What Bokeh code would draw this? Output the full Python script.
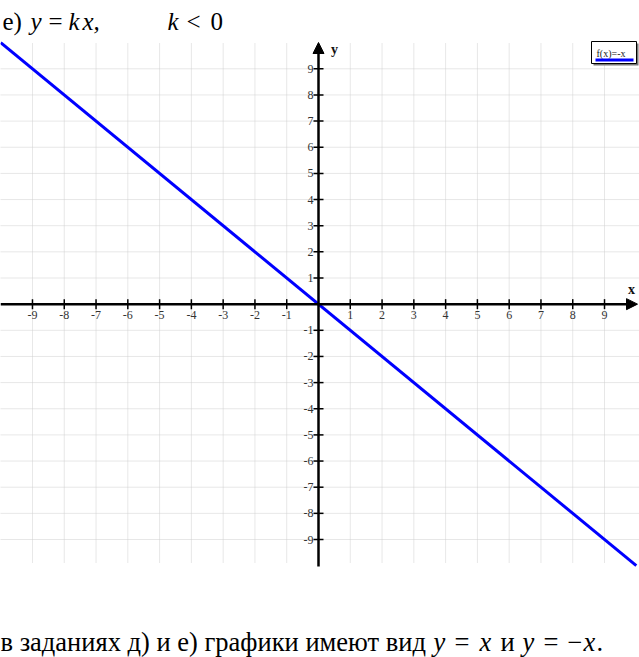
from bokeh.plotting import figure
from bokeh.models import Range1d, Arrow, NormalHead
from bokeh.core.properties import value
from bokeh.embed import file_html
from bokeh.resources import INLINE

# ---- data ----
line_x = [-10, 10]
line_y = [10, -10]          # f(x) = -x
x_ticks = [-9, -8, -7, -6, -5, -4, -3, -2, -1, 1, 2, 3, 4, 5, 6, 7, 8, 9]
x_tick_labels = [str(v) for v in x_ticks]
y_ticks = [-9, -8, -7, -6, -5, -4, -3, -2, -1, 1, 2, 3, 4, 5, 6, 7, 8, 9]
y_tick_labels = [str(v) for v in y_ticks]
grid_vals = [-9, -8, -7, -6, -5, -4, -3, -2, -1, 1, 2, 3, 4, 5, 6, 7, 8, 9]
legend_label = "f(x)=-x"

# pixel -> data helpers (layout only)
UX, OX = 31.78, 318.0
UY, OY = 26.15, 303.65
def X(px):
    return (px - OX) / UX
def Y(py):
    return (OY - py) / UY

W, H = 639, 657
p = figure(width=W, height=H, x_range=Range1d(X(0), X(W)), y_range=Range1d(Y(H), Y(0)),
           x_axis_type=None, y_axis_type=None, toolbar_location=None,
           output_backend="svg", min_border=0, outline_line_color=None)
p.grid.visible = False
p.background_fill_color = "white"

SERIF = value("Liberation Serif")

# grid
p.segment(x0=grid_vals, y0=[Y(43)] * len(grid_vals), x1=grid_vals, y1=[Y(563)] * len(grid_vals),
          line_color="#cfcfcf", line_dash="1 1", line_width=1)
p.segment(x0=[X(0)] * len(grid_vals), y0=grid_vals, x1=[X(639)] * len(grid_vals), y1=grid_vals,
          line_color="#cfcfcf", line_dash="1 1", line_width=1)

# data line
p.line(line_x, line_y, line_color="#0000ff", line_width=3)

# axes
p.add_layout(Arrow(end=NormalHead(size=11, fill_color="black", line_color="black"),
                   x_start=X(0), y_start=0, x_end=X(637), y_end=0,
                   line_color="black", line_width=2.5))
p.add_layout(Arrow(end=NormalHead(size=11, fill_color="black", line_color="black"),
                   x_start=0, y_start=Y(566), x_end=0, y_end=Y(42),
                   line_color="black", line_width=2.5))

# ticks
tx = 5 / UX
ty = 5 / UY
p.segment(x0=x_ticks, y0=[-ty] * len(x_ticks), x1=x_ticks, y1=[ty] * len(x_ticks),
          line_color="black", line_width=1.5)
p.segment(x0=[-tx] * len(y_ticks), y0=y_ticks, x1=[tx] * len(y_ticks), y1=y_ticks,
          line_color="black", line_width=1.5)

# tick labels
p.text(x=x_ticks, y=[Y(314)] * len(x_ticks), text=x_tick_labels, text_font=SERIF,
       text_font_size="12px", text_align="center", text_baseline="middle", text_color="#333333")
p.text(x=[X(313)] * len(y_ticks), y=y_ticks, text=y_tick_labels, text_font=SERIF,
       text_font_size="12px", text_align="right", text_baseline="middle", text_color="#333333")

# axis names
p.text(x=[X(631)], y=[Y(289)], text=["x"], text_font=SERIF, text_font_size="14px",
       text_font_style="bold", text_align="center", text_baseline="middle", text_color="#111111")
p.text(x=[X(334)], y=[Y(49)], text=["y"], text_font=SERIF, text_font_size="14px",
       text_font_style="bold", text_align="center", text_baseline="middle", text_color="#111111")

# legend box
p.quad(left=[X(593)], right=[X(638)], top=[Y(43)], bottom=[Y(65)],
       fill_color="#777777", line_color=None)
p.quad(left=[X(591)], right=[X(636)], top=[Y(41)], bottom=[Y(63)],
       fill_color="white", line_color="black", line_width=1)
p.text(x=[X(596)], y=[Y(53)], text=[legend_label], text_font=SERIF, text_font_size="10px",
       text_align="left", text_baseline="middle", text_color="#222222")
p.segment(x0=[X(595)], y0=[Y(59.5)], x1=[X(633)], y1=[Y(59.5)], line_color="#0000ff", line_width=3)

# text pieces
def txt(px, py, s, italic=False, size="25px"):
    p.text(x=[X(px)], y=[Y(py)], text=[s], text_font=SERIF, text_font_size=size,
           text_font_style="italic" if italic else "normal", text_align="left",
           text_baseline="alphabetic", text_color="black")

ty0 = 21
txt(2, ty0, "е)")
txt(30, ty0, "y", True)
txt(48, ty0, "=")
txt(68, ty0, "k", True)
txt(82, ty0, "x,", True)
txt(167, ty0, "k", True)
txt(186, ty0, "<")
txt(210, ty0, "0")

# bottom sentence
by = 641
bs = "26.5px"
txt(0, by, "в заданиях д) и е) графики имеют вид", size=bs)
txt(433, by, "y", True, bs)
txt(454, by, "=", size=bs)
txt(479, by, "x", True, bs)
txt(500, by, "и", size=bs)
txt(522, by, "y", True, bs)
txt(543, by, "=", size=bs)
txt(567, by, "−", size=bs)
txt(583, by, "x", True, bs)
txt(596, by, ".", size=bs)

open("out.html", "w").write(file_html(p, INLINE))
